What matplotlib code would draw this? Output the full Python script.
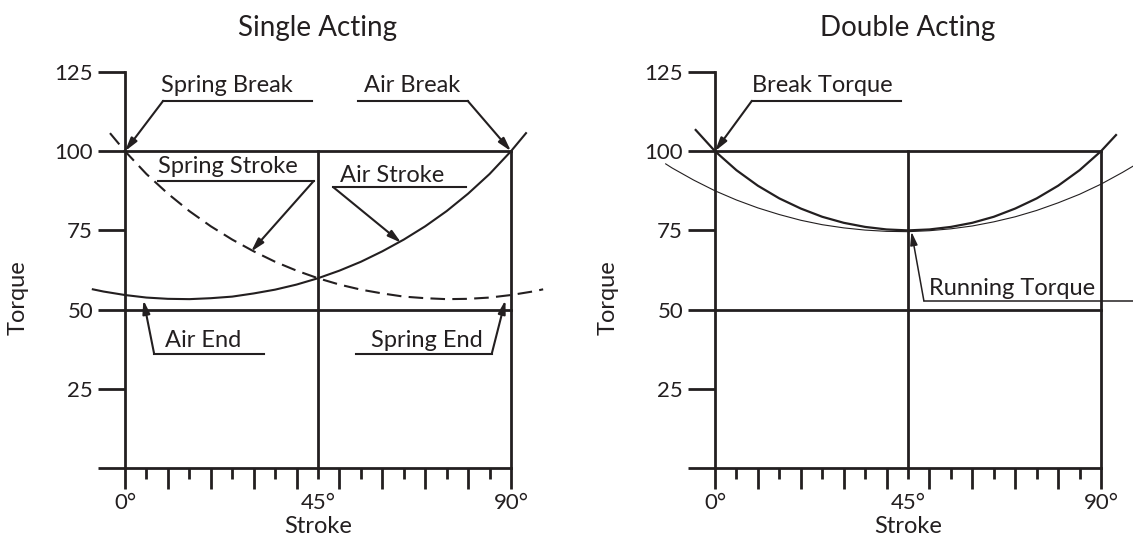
import matplotlib.pyplot as plt

# Single acting curves (stroke in degrees, torque in %)
air_deg = [-7.5, -5, 0, 5, 10, 15, 20, 25, 30, 35, 40, 45, 50, 55, 60, 65, 70, 75, 80, 85, 90, 93.5]
air_stroke = [56.4, 55.7, 54.6, 53.8, 53.4, 53.3, 53.6, 54.1, 55.1, 56.3, 57.9, 59.9, 62.3, 65.1,
              68.4, 72.1, 76.3, 81.1, 86.6, 92.8, 100.0, 105.7]
spring_deg = [-3.5, 0, 5, 10, 15, 20, 25, 30, 35, 40, 45, 50, 55, 60, 65, 70, 75, 80, 85, 90, 95, 97.5]
spring_stroke = [105.7, 100.0, 92.8, 86.6, 81.1, 76.3, 72.1, 68.4, 65.1, 62.3, 59.9, 57.9, 56.3,
                 55.1, 54.1, 53.6, 53.3, 53.4, 53.8, 54.6, 55.7, 56.4]

# Double acting curves
break_deg = [-4.5, 0, 5, 10, 15, 20, 25, 30, 35, 40, 45, 50, 55, 60, 65, 70, 75, 80, 85, 90, 93.5]
break_torque = [106.7, 100.0, 94.0, 89.1, 85.1, 81.9, 79.3, 77.4, 76.1, 75.3, 75.0, 75.3, 76.1,
                77.4, 79.3, 81.9, 85.1, 89.1, 94.0, 100.0, 105.1]
running_deg = [-11.5, -10, -5, 0, 5, 10, 15, 20, 25, 30, 35, 40, 45, 50, 55, 60, 65, 70, 75, 80,
               85, 90, 95, 98]
running_torque = [96.0, 94.7, 90.9, 87.5, 84.6, 82.1, 80.0, 78.2, 76.8, 75.8, 75.1, 74.7, 74.6,
                  74.9, 75.5, 76.4, 77.7, 79.3, 81.3, 83.7, 86.4, 89.6, 93.3, 95.7]

# Axis ticks
y_ticks = [0, 25, 50, 75, 100, 125]
y_labels = ['', '25', '50', '75', '100', '125']
x_major = [0, 10, 20, 30, 40, 50, 60, 70, 80, 90]
x_major_labels = ['0°', '', '', '', '', '', '', '', '', '90°']
x_minor = [5, 15, 25, 35, 45, 55, 65, 75, 85]
x_minor_labels = ['', '', '', '', '45°', '', '', '', '']

plt.rcParams['font.family'] = ['Lato', 'DejaVu Sans']
ink = '#231F20'
fs = 17

fig = plt.figure(figsize=(11.33, 5.4), dpi=100)
ax1 = fig.add_axes([125 / 1133, 72 / 540, 386 / 1133, 396 / 540])
ax2 = fig.add_axes([715 / 1133, 72 / 540, 386 / 1133, 396 / 540])


def frame(ax, title):
    ax.set_xlim(0, 90)
    ax.set_ylim(0, 125)
    ax.patch.set_visible(False)
    ax.spines[['top', 'right']].set_visible(False)
    for s in ['left', 'bottom']:
        ax.spines[s].set_linewidth(2)
        ax.spines[s].set_color(ink)
    ax.set_yticks(y_ticks, y_labels)
    ax.set_xticks(x_major, x_major_labels)
    ax.set_xticks(x_minor, x_minor_labels, minor=True)
    ax.tick_params(axis='y', length=19.5, width=2, pad=3.5, labelsize=16, colors=ink)
    ax.tick_params(axis='x', which='major', length=15, width=2, pad=3, labelsize=16, colors=ink)
    ax.tick_params(axis='x', which='minor', length=8, width=2, pad=10, labelsize=16, colors=ink)
    # grid lines of the diagram
    ax.plot([0, 90], [100, 100], color=ink, lw=2, clip_on=False)
    ax.plot([0, 90], [50, 50], color=ink, lw=2, clip_on=False)
    ax.plot([45, 45], [0, 100], color=ink, lw=2, clip_on=False)
    ax.plot([90, 90], [0, 100], color=ink, lw=2, clip_on=False)
    ax.set_title(title, fontsize=20, pad=26, color=ink)
    ax.set_xlabel('Stroke', fontsize=fs, labelpad=2, color=ink)
    ax.text(-0.277, 0.43, 'Torque', transform=ax.transAxes, rotation=90,
            ha='center', va='center', fontsize=fs, color=ink)


def callout(ax, text, tx, ty, x0, x1, ly, elbow, tip, lw=1.5):
    ax.plot([x0, x1], [ly, ly], color=ink, lw=lw, clip_on=False)
    ax.annotate('', xy=tip, xytext=(elbow, ly), annotation_clip=False,
                arrowprops=dict(arrowstyle='-|>,head_length=0.8,head_width=0.22',
                                color=ink, lw=lw, shrinkA=0, shrinkB=0, mutation_scale=10))
    ax.text(tx, ty, text, ha='left', va='baseline', fontsize=fs, color=ink)


frame(ax1, 'Single Acting')
frame(ax2, 'Double Acting')

ax1.plot(air_deg, air_stroke, color=ink, lw=1.5, clip_on=False)
ax1.plot(spring_deg, spring_stroke, color=ink, lw=1.5, ls=(0, (7, 3.5)), clip_on=False)

callout(ax1, 'Spring Break', 8.5, 118.6, 8.9, 43.7, 115.9, 8.9, (0, 100))
callout(ax1, 'Air Break', 55.7, 118.6, 54.4, 79.9, 115.9, 79.9, (90, 100))
callout(ax1, 'Spring Stroke', 7.6, 93.0, 7.6, 44.0, 90.6, 44.0, (29.4, 68.3))
callout(ax1, 'Air Stroke', 50.2, 90.4, 48.6, 79.5, 88.6, 48.6, (64.4, 71.1))
callout(ax1, 'Air End', 9.3, 38.1, 6.8, 32.3, 36.0, 6.8, (4.3, 53.0))
callout(ax1, 'Spring End', 57.3, 38.1, 53.8, 85.5, 36.0, 85.5, (88.7, 53.0))

ax2.plot(break_deg, break_torque, color=ink, lw=1.6, clip_on=False)
ax2.plot(running_deg, running_torque, color=ink, lw=0.8, clip_on=False)

callout(ax2, 'Break Torque', 8.6, 118.8, 8.6, 43.4, 115.9, 8.6, (0, 100))
callout(ax2, 'Running Torque', 49.9, 54.6, 48.7, 98.0, 52.8, 48.7, (45.8, 74.6), lw=1.1)

fig.savefig('out.png', dpi=100)
